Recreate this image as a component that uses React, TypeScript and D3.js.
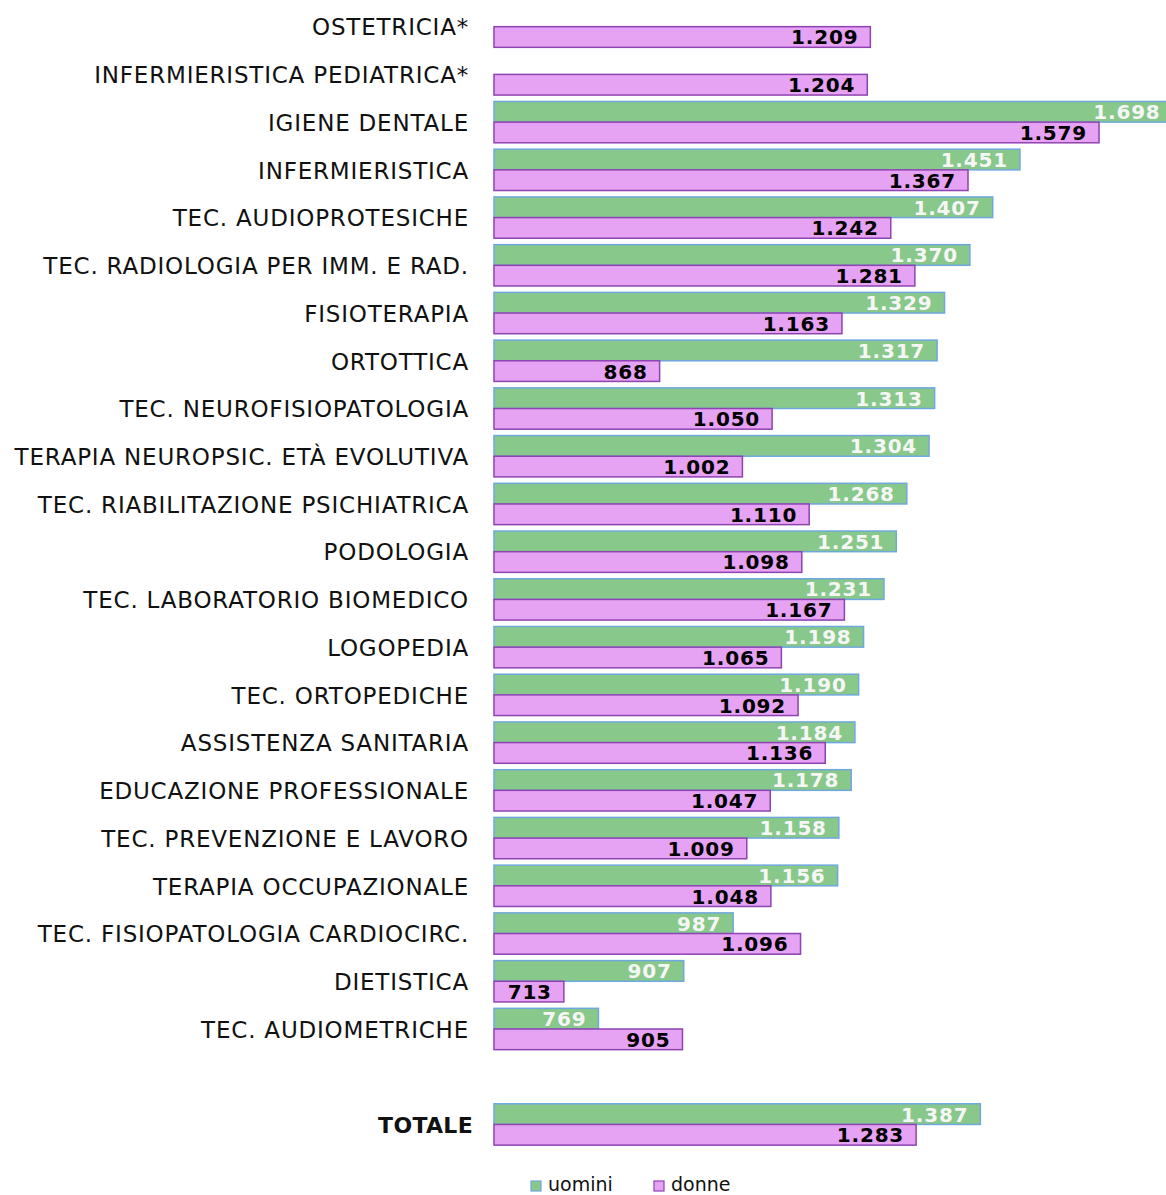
import React from 'react'
import * as d3 from 'd3'

// categories top to bottom ('' = empty spacer before the total)
const CATEGORIES = [
  'OSTETRICIA*',
  'INFERMIERISTICA PEDIATRICA*',
  'IGIENE DENTALE',
  'INFERMIERISTICA ',
  'TEC. AUDIOPROTESICHE',
  'TEC. RADIOLOGIA PER IMM. E RAD.',
  'FISIOTERAPIA',
  'ORTOTTICA',
  'TEC. NEUROFISIOPATOLOGIA',
  'TERAPIA NEUROPSIC. ETÀ EVOLUTIVA',
  'TEC. RIABILITAZIONE PSICHIATRICA',
  'PODOLOGIA',
  'TEC. LABORATORIO BIOMEDICO',
  'LOGOPEDIA',
  'TEC. ORTOPEDICHE',
  'ASSISTENZA SANITARIA',
  'EDUCAZIONE PROFESSIONALE',
  'TEC. PREVENZIONE E LAVORO',
  'TERAPIA OCCUPAZIONALE',
  'TEC. FISIOPATOLOGIA CARDIOCIRC.',
  'DIETISTICA',
  'TEC. AUDIOMETRICHE',
  '',
  'TOTALE',
]

const UOMINI = [null, null, 1698, 1451, 1407, 1370, 1329, 1317, 1313, 1304, 1268, 1251, 1231, 1198, 1190, 1184, 1178, 1158, 1156, 987, 907, 769, null, 1387]
const DONNE = [1209, 1204, 1579, 1367, 1242, 1281, 1163, 868, 1050, 1002, 1110, 1098, 1167, 1065, 1092, 1136, 1047, 1009, 1048, 1096, 713, 905, null, 1283]

const SERIES = [
  { key: 'uomini', values: UOMINI, fill: '#88c88a', stroke: '#6fa8dc', text: '#f6f6f6', weight: 600 },
  { key: 'donne', values: DONNE, fill: '#e6a2f3', stroke: '#8e44b0', text: '#000000', weight: 700 },
]

const W = 1166
const H = 1195
const FONT = 'DejaVu Sans, Verdana, sans-serif'

const it = d3.formatLocale({ decimal: ',', thousands: '.', grouping: [3], currency: ['€', ''] })
const fmt = it.format(',d')

export default function App() {
  const x = d3.scaleLinear().domain([600, 1700]).range([494, 494 + 1100 * 0.618])
  const y = d3.scaleBand<string>().domain(CATEGORIES.map((c, i) => i + '')).range([2.8, 2.8 + 24 * 47.73]).paddingInner(0.134).paddingOuter(0.067)
  const bh = y.bandwidth() / 2

  return (
    <svg width={W} height={H} style={{ position: 'absolute', left: 0, top: 0, display: 'block' }} fontFamily={FONT}>
      {CATEGORIES.map((c, i) => {
        const y0 = y(i + '')!
        const mid = y0 + bh
        const tot = c === 'TOTALE'
        return (
          <g key={i}>
            {c && (
              <text x={tot ? 473 : 469} y={mid} dy="0.38em" textAnchor="end" fontSize={tot ? 22 : 23}
                fontWeight={tot ? 700 : 400} letterSpacing={tot ? 0.3 : 0.8} fill="#111">{c}</text>
            )}
            {SERIES.map((s, si) => {
              const v = s.values[i]
              if (v == null) return null
              const by = y0 + si * bh
              return (
                <g key={s.key}>
                  <rect x={x(600)} y={by} width={x(v) - x(600)} height={bh} fill={s.fill} stroke={s.stroke} strokeWidth={1.5} />
                  <text x={x(v) - 12} y={by + bh / 2} dy="0.37em" textAnchor="end" fontSize={20} fontWeight={s.weight}
                    fill={s.text} letterSpacing={0.8}>{fmt(v)}</text>
                </g>
              )
            })}
          </g>
        )
      })}
      {/* legend */}
      {SERIES.map((s, i) => {
        const lx = 531 + i * 123
        return (
          <g key={s.key}>
            <rect x={lx} y={1181} width={10} height={10} fill={s.fill} stroke={s.stroke} strokeWidth={1.2} />
            <text x={lx + 17} y={1191} fontSize={19} fill="#111">{s.key}</text>
          </g>
        )
      })}
    </svg>
  )
}
